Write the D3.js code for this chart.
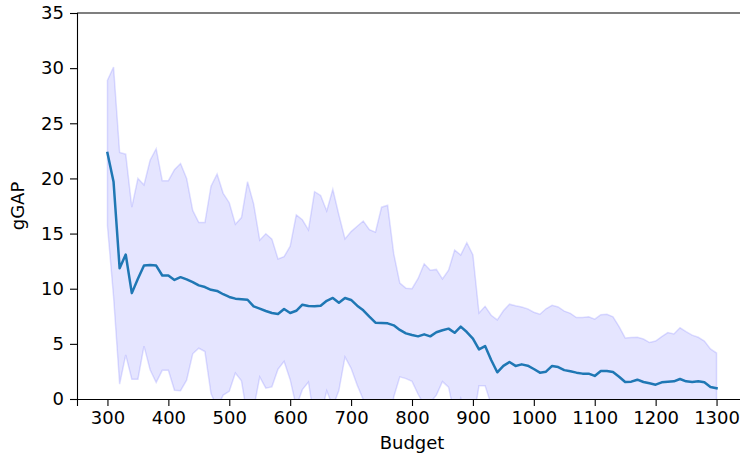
<!DOCTYPE html>
<html>
<head>
<meta charset="utf-8">
<script src="https://cdn.jsdelivr.net/npm/d3@7"></script>
<style>
  body { margin: 0; background: #fff; }
  svg { display: block; font-family: "DejaVu Sans", sans-serif; }
</style>
</head>
<body>
<div id="chart"></div>
<script>
// budgets 300..1300, step 10
const budgets = [
  300, 310, 320, 330, 340, 350, 360, 370, 380, 390,
  400, 410, 420, 430, 440, 450, 460, 470, 480, 490,
  500, 510, 520, 530, 540, 550, 560, 570, 580, 590,
  600, 610, 620, 630, 640, 650, 660, 670, 680, 690,
  700, 710, 720, 730, 740, 750, 760, 770, 780, 790,
  800, 810, 820, 830, 840, 850, 860, 870, 880, 890,
  900, 910, 920, 930, 940, 950, 960, 970, 980, 990,
  1000, 1010, 1020, 1030, 1040, 1050, 1060, 1070, 1080, 1090,
  1100, 1110, 1120, 1130, 1140, 1150, 1160, 1170, 1180, 1190,
  1200, 1210, 1220, 1230, 1240, 1250, 1260, 1270, 1280, 1290,
  1300
];

const meanGap = [
  22.3, 19.7, 11.85, 13.1, 9.6, 10.9, 12.1, 12.15, 12.1, 11.2,
  11.2, 10.8, 11.05, 10.85, 10.6, 10.3, 10.15, 9.9, 9.8, 9.5,
  9.25, 9.1, 9.05, 9.0, 8.4, 8.2, 7.98, 7.8, 7.7, 8.16,
  7.8, 8.0, 8.55, 8.43, 8.4, 8.46, 8.9, 9.16, 8.73, 9.16,
  8.98, 8.46, 8.04, 7.46, 6.92, 6.89, 6.86, 6.68, 6.26, 5.95,
  5.8, 5.68, 5.86, 5.68, 6.05, 6.23, 6.38, 6.0, 6.56, 6.07,
  5.47, 4.5, 4.8, 3.54, 2.42, 3.0, 3.35, 3.0, 3.14, 3.02,
  2.72, 2.39, 2.48, 3.0, 2.9, 2.62, 2.52, 2.39, 2.3, 2.3,
  2.09, 2.54, 2.54, 2.45, 2.02, 1.54, 1.57, 1.75, 1.54, 1.42,
  1.3, 1.51, 1.57, 1.6, 1.81, 1.6, 1.54, 1.6, 1.51, 1.09,
  0.97
];

const stdGap = [
  6.6, 10.4, 10.5, 9.1, 7.8, 9.1, 7.3, 9.5, 10.6, 8.6,
  8.6, 10.0, 10.3, 9.15, 6.5, 5.7, 5.85, 9.4, 10.6, 9.15,
  8.55, 6.75, 7.4, 10.7, 9.3, 6.2, 7.0, 6.7, 5.0, 4.75,
  6.05, 8.7, 7.7, 6.9, 10.4, 10.0, 8.15, 9.85, 7.95, 5.35,
  6.2, 7.2, 8.1, 7.9, 8.2, 10.5, 10.7, 6.5, 4.25, 4.1,
  4.2, 5.25, 6.4, 6.0, 5.7, 4.65, 5.3, 7.5, 6.5, 8.1,
  7.6, 3.3, 3.6, 4.05, 4.75, 5.0, 5.25, 5.45, 5.2, 5.15,
  5.15, 5.3, 5.7, 5.5, 5.45, 5.35, 5.25, 5.0, 5.1, 5.15,
  5.15, 5.1, 5.15, 5.0, 4.55, 4.0, 4.0, 3.85, 3.9, 3.7,
  3.95, 4.15, 4.45, 4.3, 4.65, 4.5, 4.25, 4.0, 3.75, 3.45,
  3.2
];

const xTicks = [300, 400, 500, 600, 700, 800, 900, 1000, 1100, 1200, 1300];
const yTicks = [0, 5, 10, 15, 20, 25, 30, 35];

const width = 740, height = 453;
const margin = {top: 13, right: -7, bottom: 54, left: 77};
const innerW = width - margin.left - margin.right;
const innerH = height - margin.top - margin.bottom;

const data = budgets.map((b, i) => ({b, m: meanGap[i], s: stdGap[i]}));

const x = d3.scaleLinear().domain([250, 1350]).range([0, innerW]);
const y = d3.scaleLinear().domain([0, 35]).range([innerH, 0]);

const svg = d3.select("#chart")
  .append("svg")
  .attr("width", width)
  .attr("height", height);

svg.append("defs").append("clipPath")
  .attr("id", "plot-clip")
  .append("rect")
  .attr("width", innerW)
  .attr("height", innerH);

const g = svg.append("g")
  .attr("transform", `translate(${margin.left},${margin.top})`);

const plot = g.append("g").attr("clip-path", "url(#plot-clip)");

// band: mean +/- std
const area = d3.area()
  .x(d => x(d.b))
  .y0(d => y(d.m - d.s))
  .y1(d => y(d.m + d.s));

plot.append("path")
  .datum(data)
  .attr("d", area)
  .style("fill", "rgba(0,0,255,0.1)")
  .style("stroke", "rgba(0,0,255,0.12)")
  .style("stroke-width", 1.5);

const line = d3.line()
  .x(d => x(d.b))
  .y(d => y(d.m));

plot.append("path")
  .datum(data)
  .attr("d", line)
  .style("fill", "none")
  .style("stroke", "#1f77b4")
  .style("stroke-width", 2.5)
  .style("stroke-linejoin", "round")
  .style("stroke-linecap", "square");

// axes
const xAxis = g.append("g")
  .attr("transform", `translate(0,${innerH})`)
  .call(d3.axisBottom(x).tickValues(xTicks).tickFormat(d3.format("d")).tickSize(7).tickPadding(5));

const yAxis = g.append("g")
  .call(d3.axisLeft(y).tickValues(yTicks).tickFormat(d3.format("d")).tickSize(7).tickPadding(6));

[xAxis, yAxis].forEach(ax => {
  ax.selectAll("text")
    .style("font-size", "18px")
    .style("font-family", "DejaVu Sans, sans-serif")
    .style("fill", "#000");
  ax.selectAll("line").style("stroke", "#000").style("stroke-width", 1.1);
  ax.select(".domain").style("stroke", "#000").style("stroke-width", 1.1);
});

// top spine
g.append("line")
  .attr("x1", 0).attr("x2", innerW)
  .attr("y1", 0).attr("y2", 0)
  .style("stroke", "#000")
  .style("stroke-width", 1.1);

g.append("text")
  .attr("x", x(800))
  .attr("y", innerH + 50)
  .attr("text-anchor", "middle")
  .style("font-size", "18px")
  .text("Budget");

g.append("text")
  .attr("transform", `translate(${-53},${innerH / 2}) rotate(-90)`)
  .attr("text-anchor", "middle")
  .style("font-size", "18px")
  .text("gGAP");
</script>
</body>
</html>
